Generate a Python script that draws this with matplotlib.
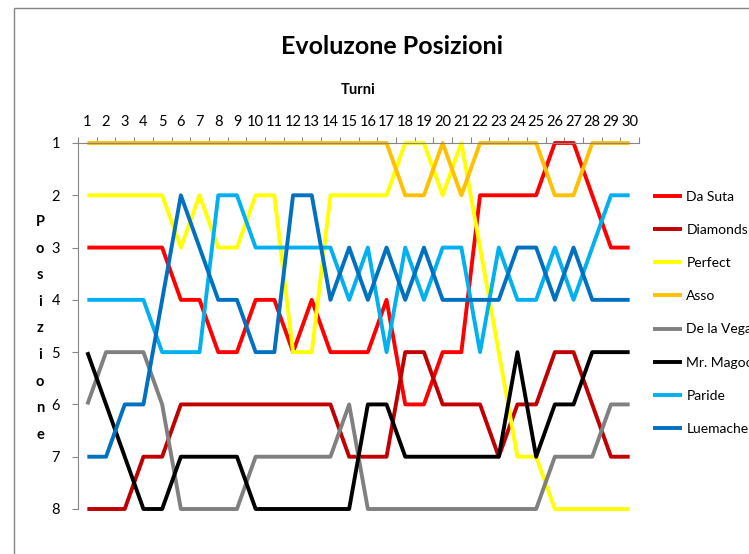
import matplotlib
matplotlib.use('Agg')
import matplotlib.pyplot as plt
from matplotlib.patches import Rectangle

# ---- data ----
turns = list(range(1, 31))
players = ["Da Suta", "Diamonds", "Perfect", "Asso", "De la Vega",
           "Mr. Magoo", "Paride", "Luemacher"]
da_suta    = [3, 3, 3, 3, 3, 4, 4, 5, 5, 4, 4, 5, 4, 5, 5, 5, 4, 6, 6, 5, 5, 2, 2, 2, 2, 1, 1, 2, 3, 3]
diamonds   = [8, 8, 8, 7, 7, 6, 6, 6, 6, 6, 6, 6, 6, 6, 7, 7, 7, 5, 5, 6, 6, 6, 7, 6, 6, 5, 5, 6, 7, 7]
perfect    = [2, 2, 2, 2, 2, 3, 2, 3, 3, 2, 2, 5, 5, 2, 2, 2, 2, 1, 1, 2, 1, 3, 5, 7, 7, 8, 8, 8, 8, 8]
asso       = [1, 1, 1, 1, 1, 1, 1, 1, 1, 1, 1, 1, 1, 1, 1, 1, 1, 2, 2, 1, 2, 1, 1, 1, 1, 2, 2, 1, 1, 1]
de_la_vega = [6, 5, 5, 5, 6, 8, 8, 8, 8, 7, 7, 7, 7, 7, 6, 8, 8, 8, 8, 8, 8, 8, 8, 8, 8, 7, 7, 7, 6, 6]
mr_magoo   = [5, 6, 7, 8, 8, 7, 7, 7, 7, 8, 8, 8, 8, 8, 8, 6, 6, 7, 7, 7, 7, 7, 7, 5, 7, 6, 6, 5, 5, 5]
paride     = [4, 4, 4, 4, 5, 5, 5, 2, 2, 3, 3, 3, 3, 3, 4, 3, 5, 3, 4, 3, 3, 5, 3, 4, 4, 3, 4, 3, 2, 2]
luemacher  = [7, 7, 6, 6, 4, 2, 3, 4, 4, 5, 5, 2, 2, 4, 3, 4, 3, 4, 3, 4, 4, 4, 4, 3, 3, 4, 3, 4, 4, 4]
series = [da_suta, diamonds, perfect, asso, de_la_vega, mr_magoo, paride, luemacher]
colors = ["#FF0000", "#C00000", "#FFFF00", "#FFC000", "#808080",
          "#000000", "#00B0F0", "#0070C0"]
ranks = list(range(1, 9))

title = "Evoluzone Posizioni"
xlabel = "Turni"
ylabel = "Posizione"

plt.rcParams['font.family'] = ['Liberation Sans Narrow', 'Lato', 'DejaVu Sans']

W, H = 749, 554
fig = plt.figure(figsize=(W / 100, H / 100), dpi=100)
ax = fig.add_axes([78 / W, 1 - 509 / H, (639 - 78) / W, (509 - 143) / H])

for name, vals, c in zip(players, series, colors):
    ax.plot(turns, vals, color=c, lw=2.8, label=name, clip_on=False,
            solid_capstyle='butt')

axis_col = '#868686'
ax.set_xlim(0.5, 30.5)
ax.set_ylim(8, 1)
ax.xaxis.set_ticks_position('top')
ax.set_xticks(turns)
ax.set_xticklabels([str(t) for t in turns])
ax.set_xticks([t + 0.5 for t in range(0, 31)], minor=True)
ax.tick_params(axis='x', which='major', length=0, pad=10, labelsize=10.5)
ax.tick_params(axis='x', which='minor', length=4, color=axis_col, direction='out', width=0.8)
ax.set_yticks(ranks)
ax.tick_params(axis='y', length=4, color=axis_col, pad=9, labelsize=10.5, width=0.8)
for s in ['right', 'bottom']:
    ax.spines[s].set_visible(False)
for s in ['left', 'top']:
    ax.spines[s].set_color(axis_col)
    ax.spines[s].set_linewidth(0.8)

fig.text(392 / W, 1 - 46 / H, title, ha='center', va='center',
         fontweight='bold', fontsize=18)
fig.text(358 / W, 1 - 90 / H, xlabel, ha='center', va='center',
         fontweight='bold', fontsize=10.5)
for i, ch in enumerate(ylabel):
    fig.text(40 / W, 1 - (222 + i * 26.6) / H, ch, ha='center', va='center',
             fontweight='bold', fontsize=10.5)

fig.add_artist(Rectangle((14 / W, -0.1), 1.2, 1.1 - 8 / H, fill=False,
                         edgecolor=axis_col, lw=1.0, transform=fig.transFigure))

fig.legend(loc='upper left', bbox_to_anchor=(653 / W, 1 - 191 / H),
           frameon=False, fontsize=10, handlelength=2.1, handletextpad=0.3,
           labelspacing=1.52, borderpad=0, borderaxespad=0)

fig.savefig('out.png', dpi=100)
